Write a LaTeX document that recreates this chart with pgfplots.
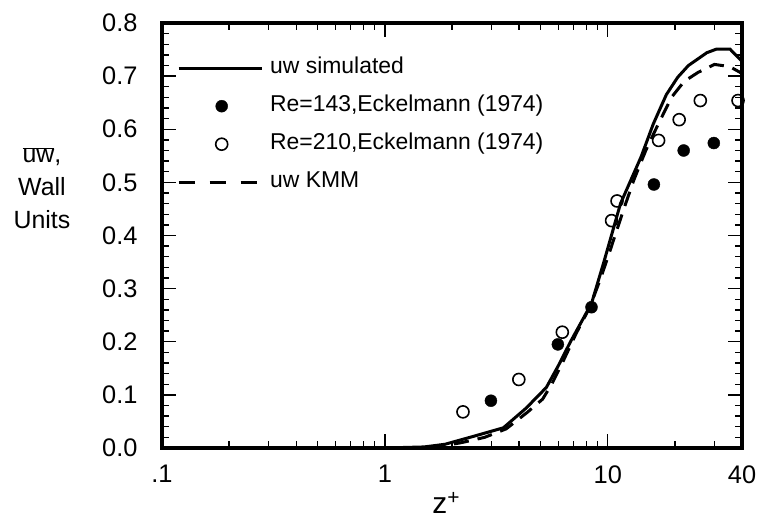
\documentclass[border=0pt]{standalone}
\usepackage{pgfplots}
\pgfplotsset{compat=1.18}
\usepackage{fontspec}
\setmainfont{Liberation Sans}
\pgfplotsset{
  longline legend/.style={legend image code/.code={\draw[##1] (0bp,0bp) -- (83bp,0bp);}},
  dashline legend/.style={legend image code/.code={\draw[##1, dash pattern=on 16bp off 15bp] (0bp,0bp) -- (83bp,0bp);}},
  dot legend/.style={legend image code/.code={\draw[##1] plot coordinates {(43bp,0bp)};}},
}

\begin{document}
\begin{tikzpicture}[x=1bp,y=1bp]
\path[use as bounding box] (0,0) rectangle (763,523);
\begin{axis}[
    at={(162bp,75bp)}, anchor=south west,
    scale only axis, width=580bp, height=425bp,
    xmode=log, xmin=0.1, xmax=40, ymin=0, ymax=0.8,
    xtick={0.1,1,10,40}, xticklabels={.1,1,10,40},
    minor xtick={0.2,0.3,0.4,0.5,0.6,0.7,0.8,0.9,2,3,4,5,6,7,8,9,20,30},
    ytick={0,0.1,0.2,0.3,0.4,0.5,0.6,0.7,0.8},
    yticklabels={0.0,0.1,0.2,0.3,0.4,0.5,0.6,0.7,0.8},
    minor y tick num=4,
    tick align=inside, xtick pos=both, ytick pos=both,
    xticklabel pos=lower, yticklabel pos=left,
    major tick length=14bp, minor tick length=7bp,
    every tick/.style={black, line width=1.3bp},
    axis line style={line width=4.5bp},
    tick label style={font=\fontsize{25.5}{25.5}\selectfont},
    yticklabel style={xshift=-21bp},
    xticklabel style={yshift=-14bp},
    xlabel={z\textsuperscript{+}},
    every axis x label/.style={at={(axis description cs:0.49,-0.155)}, anchor=base,
        font=\fontsize{30}{30}\selectfont},
    ylabel={$\overline{\mbox{uw}}$,\\Wall\\Units},
    every axis y label/.style={at={(axis description cs:-0.207,0.612)}, anchor=center,
        align=center, font=\fontsize{25}{33}\selectfont},
    legend cell align=left,
    legend style={draw=none, fill=none, inner sep=0pt,
        at={(axis description cs:0,1)}, anchor=north west,
        xshift=15bp, yshift=-34.5bp,
        font=\fontsize{23}{23}\selectfont,
        nodes={inner sep=0pt, text height=16bp, text depth=5bp},
        row sep=17bp, column sep=7bp},
]
\addplot[black, line width=3bp, longline legend]
  coordinates {(1,0.0) (1.5,0.002) (1.86,0.007) (2.5,0.022) (3.4,0.038)
    (4.3,0.075) (5.3,0.114) (6.0,0.155) (6.8,0.200) (8.45,0.272) (9.6,0.35)
    (11.4,0.46) (14.1,0.548) (16.0,0.61) (18.3,0.665) (20.6,0.698) (23,0.72)
    (27.8,0.744) (30.8,0.751) (35.3,0.751) (40,0.728)};
\addlegendentry{uw simulated}
\addplot[only marks, mark=*, mark size=6bp, black, dot legend]
  coordinates {(2.99,0.089) (5.97,0.195) (8.45,0.265) (16.1,0.496)
    (21.9,0.560) (29.9,0.574)};
\addlegendentry{Re=143,Eckelmann (1974)}
\addplot[only marks, mark=o, mark size=6bp, black,
    mark options={line width=1.6bp, fill=white}, dot legend]
  coordinates {(2.24,0.068) (3.99,0.129) (6.25,0.218) (10.4,0.428)
    (11.0,0.465) (16.9,0.579) (20.9,0.618) (26.0,0.654) (38.4,0.654)};
\addlegendentry{Re=210,Eckelmann (1974)}
\addplot[black, line width=3bp, dash pattern=on 15bp off 9bp, dashline legend]
  coordinates {(1.6,0.0) (2.2,0.01) (2.8,0.02) (3.5,0.036) (4.35,0.067)
    (5.1,0.092) (5.6,0.12) (6.25,0.160) (7.2,0.215) (8.3,0.265) (9.3,0.32)
    (10.3,0.375) (11.8,0.450) (13.1,0.505) (14.8,0.56) (16.2,0.595)
    (19.3,0.660) (22,0.690) (25.4,0.707) (30.1,0.722) (35.2,0.718) (40,0.705)};
\addlegendentry{uw KMM}
\end{axis}
\end{tikzpicture}
\end{document}
